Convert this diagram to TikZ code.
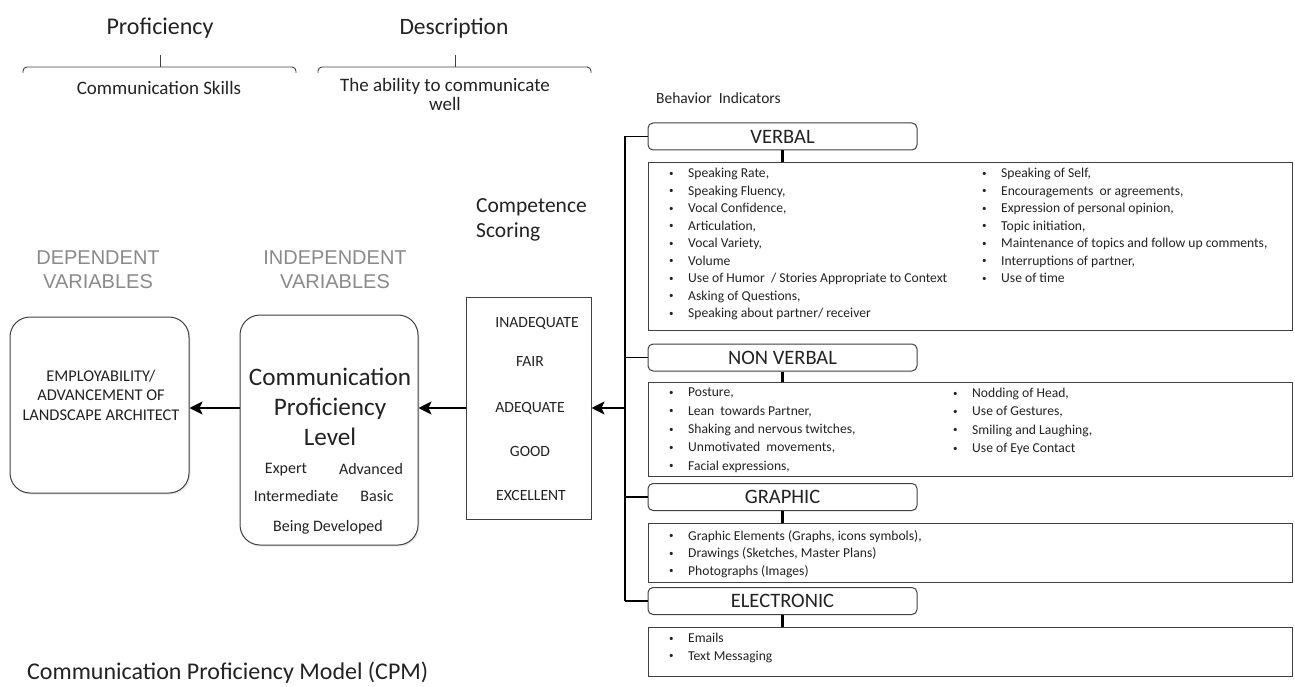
\documentclass[tikz,border=0pt]{standalone}
\usepackage{fontspec}
\setmainfont{Carlito}
\newfontfamily\arialf{Liberation Sans}
\usetikzlibrary{arrows.meta,shadows}
\definecolor{ink}{HTML}{222222}
\definecolor{boxline}{HTML}{404040}
\definecolor{varcol}{HTML}{8A8A8A}
\newcommand\fs[2]{\fontsize{#1}{#2}\selectfont}
\newcommand\bl[1]{\makebox[19pt][l]{\fs{9}{9}\raisebox{1.5pt}{•}}#1}
\begin{document}
\begin{tikzpicture}[x=1pt,y=-1pt,
  every node/.style={text=ink, inner sep=0pt},
  box/.style={draw=boxline, line width=1pt},
  rbox/.style={box, rounded corners=20pt, drop shadow={opacity=0.18, shadow xshift=1.5pt, shadow yshift=-1.5pt}, fill=white},
  hdr/.style={box, rounded corners=5pt, minimum width=269pt, minimum height=27pt, font=\fs{20.5}{20.5}, fill=white},
  cbox/.style={box, minimum width=644pt, anchor=north west},
  col/.style={anchor=north west, align=left, font=\fs{13.6}{17.5}},
  brk/.style={draw=boxline, line width=0.9pt, rounded corners=4pt},
  conn/.style={draw=black, line width=1.8pt},
  tick/.style={draw=black, line width=2.4pt},
  arr/.style={draw=black, line width=1.8pt, -{Stealth[length=13pt,width=13pt,inset=3pt]}},
  varlab/.style={font=\arialf\fs{20}{24}, text=varcol, align=center},
  score/.style={font=\fs{15.6}{15.6}}
]
\useasboundingbox (0,0) rectangle (1295,687);

% ---- top headings and brackets
\node[font=\fs{24}{24}] (prof) at (160,28) {Proficiency};
\draw[brk] (23,73) -- (23,67) -- (296,67) -- (296,73);
\draw[brk] (160,67) -- (160,55);
\node[font=\fs{19}{19}] (skills) at (159,88) {Communication Skills};

\node[font=\fs{23.5}{23.5}] (desc) at (454,28) {Description};
\draw[brk] (318,73) -- (318,67) -- (591,67) -- (591,73);
\draw[brk] (455,67) -- (455,55);
\node[font=\fs{19}{19}, align=center] (ability) at (445,94) {The ability to communicate\\well};

\node[font=\fs{15.5}{15.5}, anchor=west] (behav) at (656,98) {Behavior\ \ Indicators};
\node[font=\fs{21.5}{25}, align=left, anchor=west] (compsc) at (476,220) {Competence\\Scoring};

% ---- variable labels
\node[varlab] (deplab) at (98,270) {DEPENDENT\\VARIABLES};
\node[varlab] (indlab) at (335,270) {INDEPENDENT\\VARIABLES};

% ---- left boxes
\node[rbox, minimum width=179pt, minimum height=176pt] (dep) at (99.5,405) {};
\node[font=\fs{16.4}{19.5}, align=center] (deptxt) at (101,395) {EMPLOYABILITY/\\ADVANCEMENT OF\\LANDSCAPE ARCHITECT};

\node[rbox, minimum width=178pt, minimum height=230pt] (ind) at (329,430) {};
\node[font=\fs{25.2}{30}, align=center] (indtxt) at (330,407) {Communication\\Proficiency\\Level};
\node[font=\fs{16}{16}] (expert) at (286,470) {Expert};
\node[font=\fs{16}{16}] (adv) at (371,469) {Advanced};
\node[font=\fs{16}{16}] (inter) at (296,496) {Intermediate};
\node[font=\fs{16}{16}] (basic) at (377,496) {Basic};
\node[font=\fs{16}{16}] (being) at (328,527) {Being Developed};

\node[box, minimum width=125pt, minimum height=222pt] (comp) at (528.5,408) {};
\node[score] (s1) at (537,323) {INADEQUATE};
\node[score] (s2) at (530,361) {FAIR};
\node[score] (s3) at (530,408) {ADEQUATE};
\node[score] (s4) at (530,451) {GOOD};
\node[score] (s5) at (531,495) {EXCELLENT};

% ---- right side: headers
\node[hdr] (hv) at (782.5,136.5) {VERBAL};
\node[hdr] (hn) at (782.5,357.5) {NON VERBAL};
\node[hdr] (hg) at (782.5,497) {GRAPHIC};
\node[hdr] (he) at (782.5,601) {ELECTRONIC};

% ---- content boxes
\node[cbox, minimum height=168pt] (cv) at (648,162) {};
\node[cbox, minimum height=94pt] (cn) at (648,382) {};
\node[cbox, minimum height=59pt] (cg) at (648,523) {};
\node[cbox, minimum height=49pt] (ce) at (648,627) {};

% ---- content text
\node[col] (cv1) at (669,168) {\bl{Speaking Rate,}\\\bl{Speaking Fluency,}\\\bl{Vocal Confidence,}\\\bl{Articulation,}\\\bl{Vocal Variety,}\\\bl{Volume}\\\bl{Use of Humor\ \ / Stories Appropriate to Context}\\\bl{Asking of Questions,}\\\bl{Speaking about partner/ receiver}};
\node[col] (cv2) at (982,168) {\bl{Speaking of Self,}\\\bl{Encouragements\ \ or agreements,}\\\bl{Expression of personal opinion,}\\\bl{Topic initiation,}\\\bl{Maintenance of topics and follow up comments,}\\\bl{Interruptions of partner,}\\\bl{Use of time}};
\node[col, font=\fs{13.6}{18.3}] (cn1) at (669,388) {\bl{Posture,}\\\bl{Lean\ \ towards Partner,}\\\bl{Shaking and nervous twitches,}\\\bl{Unmotivated\ \ movements,}\\\bl{Facial expressions,}};
\node[col, font=\fs{13.6}{18.3}] (cn2) at (953,388) {\bl{Nodding of Head,}\\\bl{Use of Gestures,}\\\bl{Smiling and Laughing,}\\\bl{Use of Eye Contact}};
\node[col] (cg1) at (669,530) {\bl{Graphic Elements (Graphs, icons symbols),}\\\bl{Drawings (Sketches, Master Plans)}\\\bl{Photographs (Images)}};
\node[col] (ce1) at (669,633) {\bl{Emails}\\\bl{Text Messaging}};

% ---- connectors
\coordinate (trunk) at (625,0);
\draw[conn, line width=1.5pt] (trunk |- hv.west) -- (trunk |- he.west);
\draw[conn] (trunk |- hv.west) -- (hv.west);
\draw[conn] (trunk |- hn.west) -- (hn.west);
\draw[conn] (trunk |- hg.west) -- (hg.west);
\draw[conn] (trunk |- he.west) -- (he.west);
\draw[tick] (hv.south) -- (hv.south |- cv.north);
\draw[tick] (hn.south) -- (hn.south |- cn.north);
\draw[tick] (hg.south) -- (hg.south |- cg.north);
\draw[tick] (he.south) -- (he.south |- ce.north);

\coordinate (ay) at (0,408);
\draw[arr] (trunk |- ay) -- (comp.east |- ay);
\draw[arr] (comp.west |- ay) -- (ind.east |- ay);
\draw[arr] (ind.west |- ay) -- (dep.east |- ay);

% ---- caption
\node[font=\fs{24}{24}, anchor=base west] (cpm) at (27,679) {Communication Proficiency Model (CPM)};
\end{tikzpicture}
\end{document}
